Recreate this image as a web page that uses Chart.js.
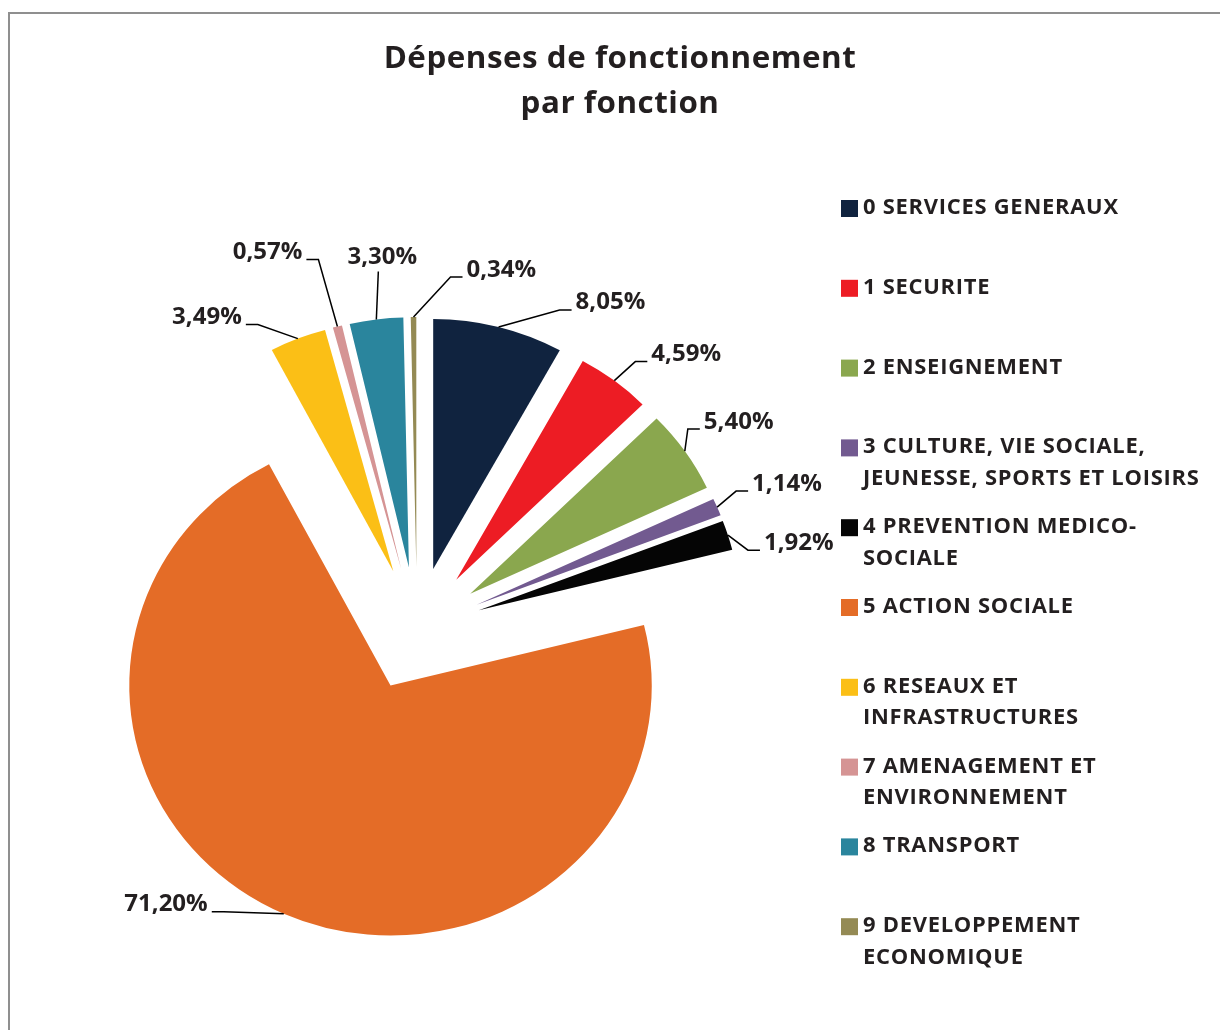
<!DOCTYPE html>
<html lang="fr">
<head>
<meta charset="utf-8">
<title>Dépenses de fonctionnement par fonction</title>
<script src="https://cdn.jsdelivr.net/npm/chart.js@4.4.1/dist/chart.umd.min.js"></script>
<style>
  html, body { margin: 0; padding: 0; background: #fff; overflow: hidden; }
  #cadre { position: absolute; left: 8px; top: 12px; width: 1300px; height: 1100px; border: 2px solid #8f8f8f; }
  #graphique { position: absolute; left: 0; top: 0; }
</style>
</head>
<body>
<div id="cadre"></div>
<canvas id="graphique" width="1220" height="1030"></canvas>
<script>
var titre = ['Dépenses de fonctionnement', 'par fonction'];
var fonctions = [
    ['0 SERVICES GENERAUX'],
    ['1 SECURITE'],
    ['2 ENSEIGNEMENT'],
    ['3 CULTURE, VIE SOCIALE,', 'JEUNESSE, SPORTS ET LOISIRS'],
    ['4 PREVENTION MEDICO-', 'SOCIALE'],
    ['5 ACTION SOCIALE'],
    ['6 RESEAUX ET', 'INFRASTRUCTURES'],
    ['7 AMENAGEMENT ET', 'ENVIRONNEMENT'],
    ['8 TRANSPORT'],
    ['9 DEVELOPPEMENT', 'ECONOMIQUE']
];
var parts = [8.05, 4.59, 5.40, 1.14, 1.92, 71.20, 3.49, 0.57, 3.30, 0.34];
var couleurs = ['#10233f', '#ed1c24', '#8aa74e', '#725a90', '#050505', '#e46c27', '#fbbf16', '#d59494', '#2a859d', '#948a54'];

// lignes de rappel : coude (par rapport au bord de la part) et côté du texte
var coudes = [[61, -17], [21, -19], [3, -22], [19, -16], [20, 15], [-60, -2], [-40, -14], [-19, -67], [2, -48], [37, -40]];
var cotes = [1, 1, 1, 1, 1, -1, -1, -1, 0, 1];

var ecart = 62;        // éclatement des parts
var etirement = 1.045; // l'image d'origine est un peu étirée en largeur
var texte = '#231f20';
var police = '"Open Sans", Lato, sans-serif';

function versEcran(arc, angle, r) {
    return {
        x: arc.x + Math.cos(angle) * r * etirement,
        y: arc.y + Math.sin(angle) * r
    };
}

// texte étiré comme le reste de l'image
function ecrire(ctx, txt, x, y) {
    ctx.save();
    ctx.translate(x, y);
    ctx.scale(etirement, 1);
    ctx.fillText(txt, 0, 0);
    ctx.restore();
}

var eclatement = {
    id: 'eclatement',
    beforeDatasetDraw: function (chart, args) {
        var ctx = chart.ctx;
        args.meta.data.forEach(function (arc) {
            var milieu = (arc.startAngle + arc.endAngle) / 2;
            ctx.save();
            ctx.translate(arc.x, arc.y);
            ctx.scale(etirement, 1);
            ctx.translate(Math.cos(milieu) * ecart - arc.x, Math.sin(milieu) * ecart - arc.y);
            arc.draw(ctx);
            ctx.restore();
        });
        return false;
    }
};

var etiquettes = {
    id: 'etiquettes',
    afterDatasetsDraw: function (chart) {
        var ctx = chart.ctx;
        ctx.save();
        ctx.strokeStyle = '#000';
        ctx.lineWidth = 1.5;
        ctx.fillStyle = texte;
        ctx.font = 'bold 23px ' + police;
        ctx.textBaseline = 'middle';
        chart.getDatasetMeta(0).data.forEach(function (arc, i) {
            var milieu = (arc.startAngle + arc.endAngle) / 2;
            var a = versEcran(arc, milieu, arc.outerRadius + ecart);
            var cx = a.x + coudes[i][0], cy = a.y + coudes[i][1];
            var cote = cotes[i];
            var fin = cx + cote * 12;
            ctx.beginPath();
            ctx.moveTo(a.x, a.y);
            ctx.lineTo(cx, cy);
            ctx.lineTo(fin, cy);
            ctx.stroke();
            var valeur = parts[i].toFixed(2).replace('.', ',') + '%';
            if (cote === 0) {
                ctx.textAlign = 'center';
                ecrire(ctx, valeur, cx + 4, cy - 14);
            } else {
                ctx.textAlign = cote > 0 ? 'left' : 'right';
                ecrire(ctx, valeur, fin + cote * 4, cy - 7);
            }
        });
        ctx.restore();
    }
};

var titreGraphique = {
    id: 'titreGraphique',
    afterDraw: function (chart) {
        var ctx = chart.ctx;
        ctx.save();
        ctx.fillStyle = texte;
        ctx.font = 'bold 30px ' + police;
        ctx.letterSpacing = '0.5px';
        ctx.textAlign = 'center';
        ctx.textBaseline = 'alphabetic';
        titre.forEach(function (l, k) {
            ecrire(ctx, l, 620, 68 + k * 45);
        });
        ctx.restore();
    }
};

var legende = {
    id: 'legende',
    afterDraw: function (chart) {
        var ctx = chart.ctx;
        ctx.save();
        ctx.font = 'bold 21px ' + police;
        ctx.letterSpacing = '0.7px';
        ctx.textBaseline = 'middle';
        ctx.textAlign = 'left';
        chart.data.labels.forEach(function (lignes, i) {
            var y = 208 + i * 79.8;
            ctx.fillStyle = couleurs[i];
            ctx.fillRect(841, y - 8, 17, 17);
            ctx.fillStyle = texte;
            lignes.forEach(function (l, k) {
                ecrire(ctx, l, 863, y + k * 31.5);
            });
        });
        ctx.restore();
    }
};

new Chart(document.getElementById('graphique'), {
    type: 'pie',
    data: {
        labels: fonctions,
        datasets: [{
            data: parts,
            backgroundColor: couleurs,
            borderWidth: 0
        }]
    },
    options: {
        responsive: false,
        animation: false,
        events: [],
        radius: 250,
        layout: { padding: { left: 0, right: 386, top: 228, bottom: 0 } },
        plugins: {
            legend: { display: false },
            title: { display: false },
            tooltip: { enabled: false }
        }
    },
    plugins: [eclatement, etiquettes, titreGraphique, legende]
});
</script>
</body>
</html>
